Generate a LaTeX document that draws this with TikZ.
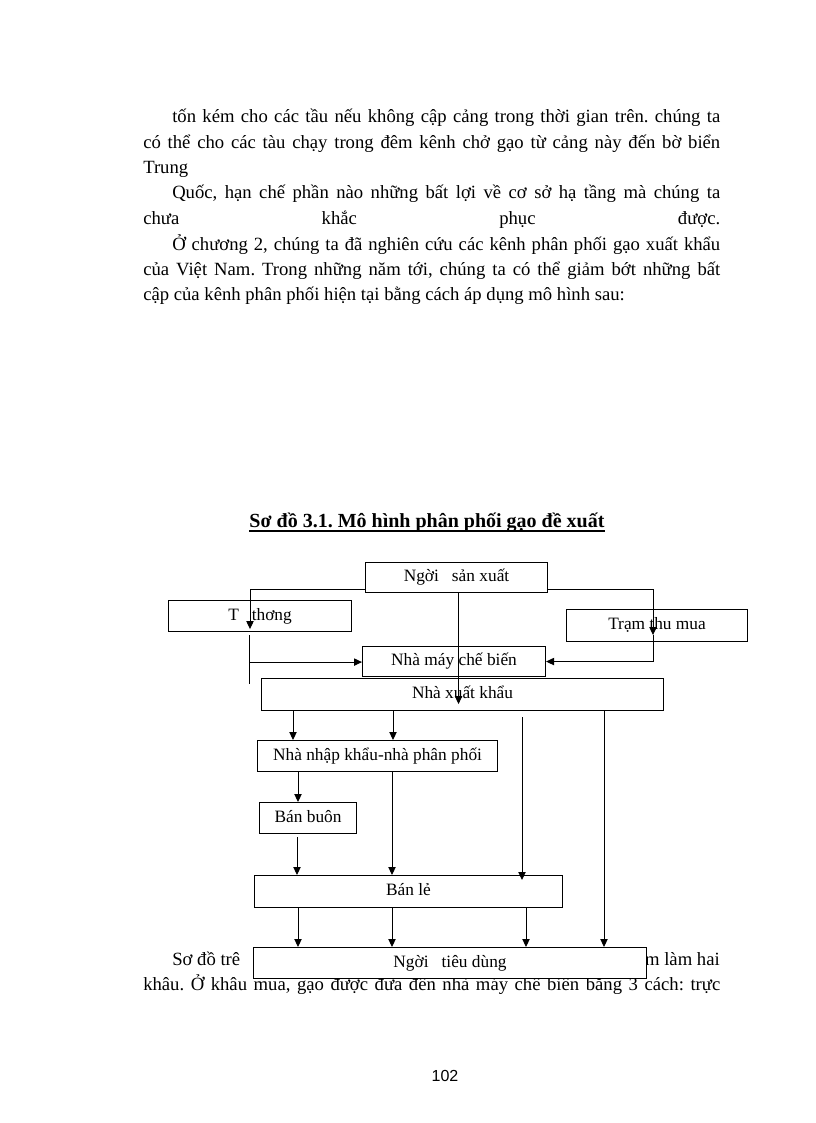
\documentclass[tikz,border=0pt]{standalone}
\usepackage{fontspec}
\setmainfont{Liberation Serif}
\newfontfamily\pgnumfont{Liberation Sans}
\usetikzlibrary{arrows.meta,calc}
\newcommand\mybox[6]{\node[box,minimum width=#4*0.75pt,minimum height=#5*0.75pt] (#1) at (#2,#3) {#6};}
\frenchspacing
\begin{document}
\begin{tikzpicture}[x=0.75pt,y=-0.75pt,
  body/.style={anchor=base west,inner sep=0pt,font=\fontsize{14}{16}\selectfont},
  box/.style={draw,line width=0.8pt,fill=white,inner sep=0pt,anchor=north west,
    text height=9pt,text depth=3pt,font=\fontsize{13}{15}\selectfont},
  arr/.style={-{Triangle[length=6pt,width=5.5pt]},line width=0.7pt},
  ln/.style={line width=0.7pt}]
\useasboundingbox[fill=white] (0,0) rectangle (816,1123);

% body text
\node[body] (l1) at (172,123) {\makebox[411pt][s]{tốn kém cho các tầu nếu không cập cảng trong thời gian trên. chúng ta}};
\node[body] (l2) at (143,149) {\makebox[432.75pt][s]{có thể cho các tàu chạy trong đêm kênh chở gạo từ cảng này đến bờ biển}};
\node[body] (l3) at (143,174) {Trung};
\node[body] (l4) at (172,199) {\makebox[411pt][s]{Quốc, hạn chế phần nào những bất lợi về cơ sở hạ tầng mà chúng ta}};
\node[body] (l5) at (143,224) {\makebox[432.75pt][s]{chưa khắc phục được.}};
\node[body] (l6) at (172,250) {\makebox[411pt][s]{Ở chương 2, chúng ta đã nghiên cứu các kênh phân phối gạo xuất khẩu}};
\node[body] (l7) at (143,275) {\makebox[432.75pt][s]{của Việt Nam. Trong những năm tới, chúng ta có thể giảm bớt những bất}};
\node[body] (l8) at (143,300) {cập của kênh phân phối hiện tại bằng cách áp dụng mô hình sau:};

\node[body] (l9a) at (172,965) {Sơ đồ trê};
\node[body,anchor=base east] (l9b) at (720,965) {m làm hai};
\node[body] (l10) at (143,990) {\makebox[432.75pt][s]{khâu. Ở khâu mua, gạo được đưa đến nhà máy chế biến bằng 3 cách: trực}};

% title
\node[anchor=base,inner sep=0pt,font=\bfseries\fontsize{15}{17}\selectfont] (title) at (427,527) {Sơ đồ 3.1. Mô hình phân phối gạo đề xuất};
\draw[line width=1.1pt] ($(title.base west)+(0,4)$) -- ($(title.base east)+(0,4)$);

% boxes
\mybox{nsx}{365}{562}{182}{30}{Ngời~~~sản xuất}
\mybox{tt}{168}{600}{183}{31}{T~~~thơng}
\mybox{tram}{566}{609}{181}{32}{Trạm thu mua}
\mybox{nmcb}{362}{646}{183}{30}{Nhà máy chế biến}
\mybox{nxk}{261}{678}{402}{32}{Nhà xuất khẩu}
\mybox{nnk}{257}{740}{240}{31}{Nhà nhập khẩu-nhà phân phối}
\mybox{bb}{259}{802}{97}{31}{Bán buôn}
\mybox{bl}{254}{875}{308}{32}{Bán lẻ}
\mybox{ntd}{253}{947}{393}{31}{Ngời~~~tiêu dùng}

% left feed via trader
\draw[arr] ($(nsx.south west)+(0,-4)$) -| ($(tt.south west)+(82,-3)$);
\coordinate (ttb) at ($(tt.south west)+(81,3)$);
\coordinate (ttj) at ($(tt.south west)+(81,30)$);
\coordinate (tte) at ($(tt.south west)+(81,52)$);
\draw[ln] (ttb) -- (tte);
\draw[arr] (ttj) -- (ttj -| nmcb.west);

% right feed via collecting station
\coordinate (trj) at ($(tram.south west)+(87,-7)$);
\draw[arr] ($(nsx.south east)+(0,-4)$) -| (trj);
\draw[arr] (trj) |- (nmcb.east);

% direct producer -> exporter
\coordinate (dtop) at ($(nsx.south)+(2,0)$);
\coordinate (dend) at (dtop |- nxk.south);
\draw[arr] (dtop) -- ($(dend)+(0,-7)$);

% exporter
\coordinate (e1) at ($(nxk.south west)+(32,0)$);
\coordinate (e2) at ($(nxk.south west)+(132,0)$);
\coordinate (e3) at ($(nxk.south west)+(261,6)$);
\coordinate (e3end) at (e3 |- bl.north);
\coordinate (e4) at ($(nxk.south west)+(343,0)$);
\draw[arr] (e1) -- (e1 |- nnk.north);
\draw[arr] (e2) -- (e2 |- nnk.north);
\draw[arr] (e3) -- ($(e3end)+(0,5)$);
\draw[arr] (e4) -- (e4 |- ntd.north);

% importer
\coordinate (i1) at ($(nnk.south west)+(41,0)$);
\coordinate (i2) at ($(nnk.south west)+(135,0)$);
\draw[arr] (i1) -- (i1 |- bb.north);
\draw[arr] (i2) -- (i2 |- bl.north);

% wholesale
\coordinate (w1) at ($(bb.south west)+(38,3)$);
\draw[arr] (w1) -- (w1 |- bl.north);

% retail -> consumer
\coordinate (r1) at ($(bl.south west)+(44,0)$);
\coordinate (r2) at ($(bl.south west)+(138,0)$);
\coordinate (r3) at ($(bl.south west)+(272,0)$);
\draw[arr] (r1) -- (r1 |- ntd.north);
\draw[arr] (r2) -- (r2 |- ntd.north);
\draw[arr] (r3) -- (r3 |- ntd.north);

% page number
\node[anchor=base,inner sep=0pt,font=\pgnumfont\fontsize{12}{14}\selectfont] (pg) at (445,1081) {102};
\end{tikzpicture}
\end{document}
